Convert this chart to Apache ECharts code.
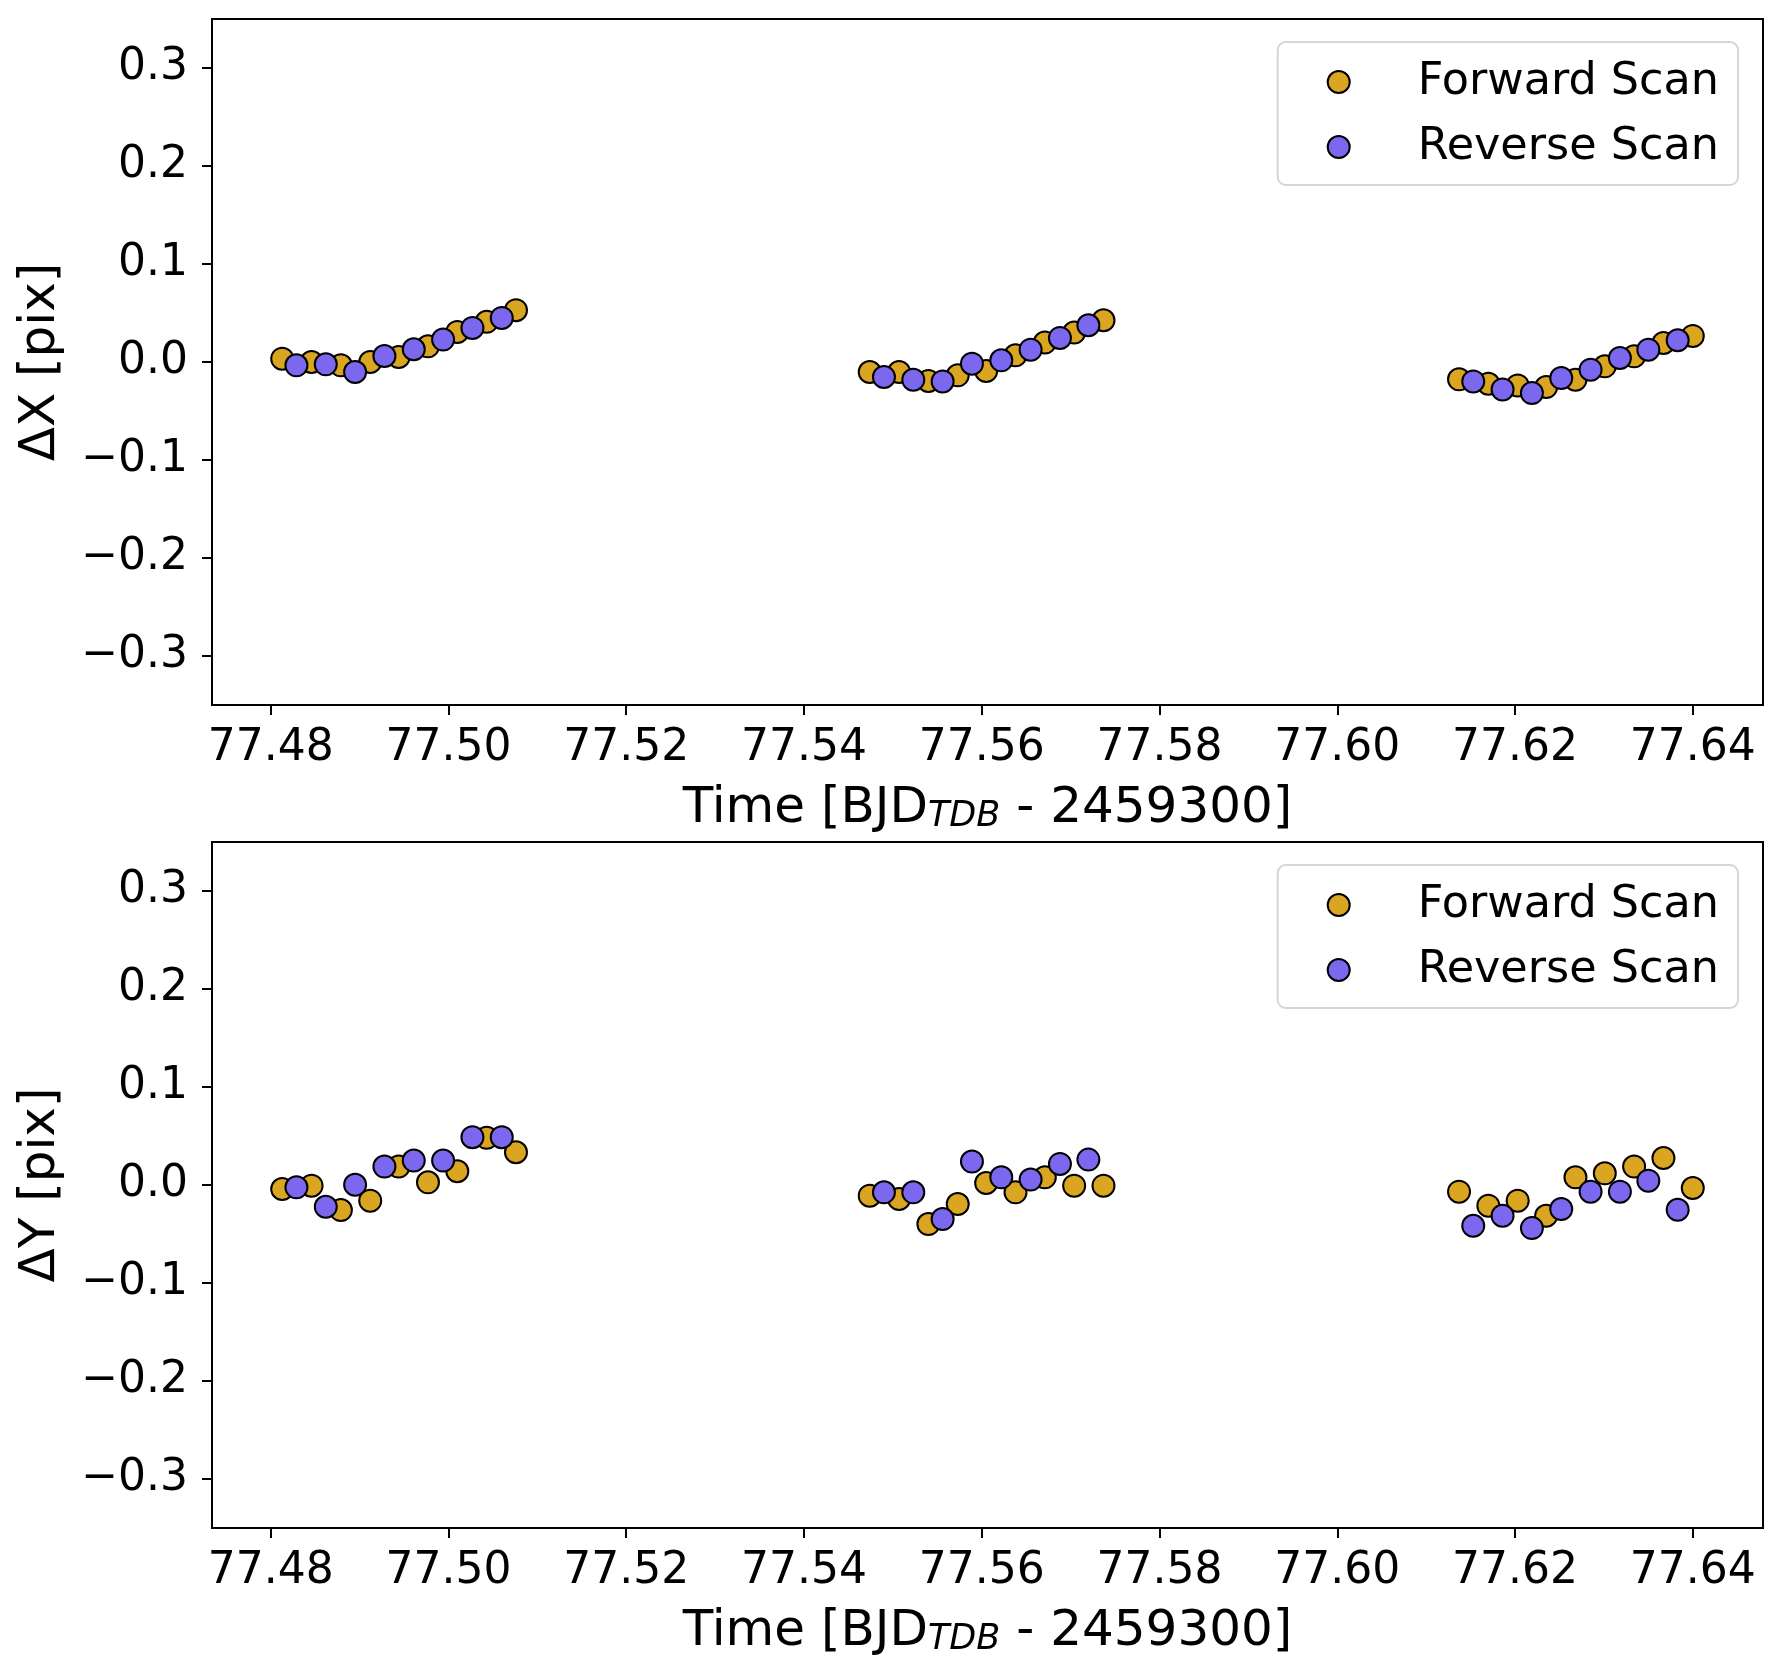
<!DOCTYPE html>
<html>
<head>
<meta charset="utf-8">
<script src="https://cdn.jsdelivr.net/npm/echarts@6/dist/echarts.min.js"></script>
<style>
html,body{margin:0;padding:0;background:#fff;}
#chart{width:1780px;height:1674px;}
</style>
</head>
<body>
<div id="chart"></div>
<script>
// ---- data ----
const forwardTime = [
  77.4813, 77.4846, 77.4879, 77.4912, 77.4944, 77.4977, 77.5010, 77.5043, 77.5076,
  77.5474, 77.5507, 77.5540, 77.5573, 77.5605, 77.5638, 77.5671, 77.5704, 77.5737,
  77.6137, 77.6170, 77.6203, 77.6235, 77.6268, 77.6301, 77.6334, 77.6367, 77.6400
];
const reverseTime = [
  77.4829, 77.4862, 77.4895, 77.4928, 77.4961, 77.4994, 77.5027, 77.5060,
  77.5490, 77.5523, 77.5556, 77.5589, 77.5622, 77.5655, 77.5688, 77.5720,
  77.6153, 77.6186, 77.6219, 77.6252, 77.6285, 77.6318, 77.6350, 77.6383
];
const forwardDX = [
  0.0034, 0.0000, -0.0034, 0.0000, 0.0051, 0.0160, 0.0307, 0.0410, 0.0529,
  -0.0102, -0.0102, -0.0194, -0.0136, -0.0092, 0.0068, 0.0198, 0.0300, 0.0426,
  -0.0177, -0.0222, -0.0239, -0.0256, -0.0181, -0.0044, 0.0058, 0.0194, 0.0266
];
const reverseDX = [
  -0.0034, -0.0024, -0.0102, 0.0061, 0.0130, 0.0229, 0.0348, 0.0450,
  -0.0153, -0.0181, -0.0198, -0.0017, 0.0017, 0.0126, 0.0246, 0.0375,
  -0.0198, -0.0280, -0.0317, -0.0164, -0.0078, 0.0041, 0.0126, 0.0222
];
const forwardDY = [
  -0.0041, -0.0007, -0.0256, -0.0160, 0.0188, 0.0027, 0.0140, 0.0481, 0.0334,
  -0.0109, -0.0143, -0.0399, -0.0194, 0.0020, -0.0075, 0.0078, -0.0007, -0.0007,
  -0.0068, -0.0211, -0.0160, -0.0314, 0.0078, 0.0119, 0.0188, 0.0276, -0.0031
];
const reverseDY = [
  -0.0024, -0.0222, 0.0003, 0.0188, 0.0249, 0.0249, 0.0488, 0.0488,
  -0.0075, -0.0075, -0.0348, 0.0239, 0.0078, 0.0055, 0.0215, 0.0259,
  -0.0416, -0.0314, -0.0440, -0.0246, -0.0068, -0.0068, 0.0044, -0.0252
];
const xTicks = [77.48, 77.50, 77.52, 77.54, 77.56, 77.58, 77.60, 77.62, 77.64];
const yTicks = [-0.3, -0.2, -0.1, 0.0, 0.1, 0.2, 0.3];
const seriesNames = ['Forward Scan', 'Reverse Scan'];
const yTitles = ['ΔX [pix]', 'ΔY [pix]'];
const xRange = [77.4734, 77.6479];
const yRange = [-0.35, 0.35];

// ---- chart ----
const FONT = 'DejaVu Sans';
const colors = ['#DAA520', '#7B68EE'];
const zip = (a, b) => a.map((v, i) => [v, b[i]]);

const grids = [
  {left: 212, right: 17, top: 19, height: 686},
  {left: 212, right: 17, top: 842, height: 686}
].map(g => Object.assign(g, {show: true, borderColor: '#000', borderWidth: 2, backgroundColor: 'transparent'}));

function fmtY(v) {
  const r = Math.round(v * 10) / 10;
  return (r < 0 ? '\u2212' : '') + Math.abs(r).toFixed(1);
}

const xAxes = [0, 1].map(i => ({
  type: 'value', gridIndex: i, min: xRange[0], max: xRange[1],
  axisLine: {show: true, onZero: false, lineStyle: {color: '#000', width: 2}},
  axisTick: {show: true, length: 10, lineStyle: {color: '#000', width: 2}, customValues: xTicks},
  axisLabel: {customValues: xTicks, formatter: v => v.toFixed(2), color: '#000', fontFamily: FONT, fontSize: 44, margin: 22},
  splitLine: {show: false},
  name: '{m|Time [BJD}{s|TDB}{m| - 2459300]}',
  nameLocation: 'middle', nameGap: 67,
  nameTextStyle: {
    color: '#000', fontFamily: FONT, fontSize: 50,
    rich: {
      m: {color: '#000', fontFamily: FONT, fontSize: 50, lineHeight: 62, verticalAlign: 'bottom'},
      s: {color: '#000', fontFamily: FONT, fontSize: 35, fontStyle: 'italic', lineHeight: 28, verticalAlign: 'bottom'}
    }
  }
}));

const yAxes = [0, 1].map(i => ({
  type: 'value', gridIndex: i, min: yRange[0], max: yRange[1],
  axisLine: {show: true, onZero: false, lineStyle: {color: '#000', width: 2}},
  axisTick: {show: true, length: 10, lineStyle: {color: '#000', width: 2}, customValues: yTicks},
  axisLabel: {customValues: yTicks, formatter: fmtY, color: '#000', fontFamily: FONT, fontSize: 44, margin: 24},
  splitLine: {show: false},
  name: yTitles[i], nameLocation: 'middle', nameGap: 146, nameRotate: 90,
  nameTextStyle: {color: '#000', fontFamily: FONT, fontSize: 50}
}));

const legends = [42, 865].map(top => ({
  orient: 'vertical', right: 42, top: top, align: 'left',
  data: seriesNames,
  itemWidth: 22, itemHeight: 22, itemGap: 15,
  padding: [15, 19, 13, 49],
  backgroundColor: 'rgba(255,255,255,0.8)',
  borderColor: '#d6d6d6', borderWidth: 2, borderRadius: 8,
  textStyle: {color: '#000', fontFamily: FONT, fontSize: 44.5, lineHeight: 50, padding: [0, 0, 0, 63]}
}));

const yData = [[forwardDX, reverseDX], [forwardDY, reverseDY]];
const times = [forwardTime, reverseTime];
const series = [];
[0, 1].forEach(g => {
  [0, 1].forEach(k => {
    series.push({
      type: 'scatter', name: seriesNames[k], xAxisIndex: g, yAxisIndex: g,
      data: zip(times[k], yData[g][k]),
      symbol: 'circle', symbolSize: 22,
      itemStyle: {color: colors[k], borderColor: '#000', borderWidth: 2, opacity: 1},
      emphasis: {disabled: true},
      z: 2 + k
    });
  });
});

const chart = echarts.init(document.getElementById('chart'), null, {renderer: 'canvas'});
chart.setOption({
  animation: false,
  backgroundColor: '#fff',
  grid: grids,
  xAxis: xAxes,
  yAxis: yAxes,
  legend: legends,
  series: series
});
</script>
</body>
</html>
